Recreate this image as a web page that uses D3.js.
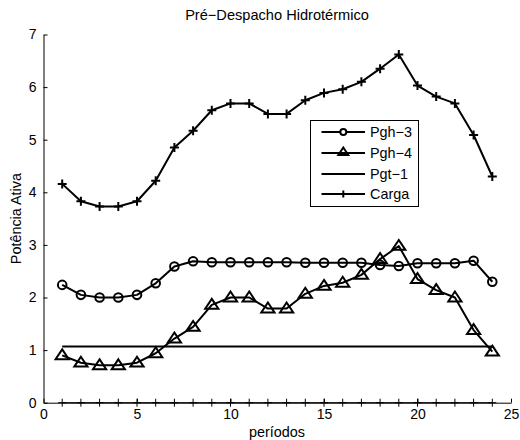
<!DOCTYPE html>
<html>
<head>
<meta charset="utf-8">
<script src="https://cdn.jsdelivr.net/npm/d3@7"></script>
<style>
body { margin: 0; background: #fff; }
svg { display: block; font-family: "Liberation Sans", Arial, Helvetica, sans-serif; }
</style>
</head>
<body>
<svg id="chart" width="520" height="440"></svg>
<script>
const periods = d3.range(1, 25);
const pgh3 = [2.24, 2.05, 2.00, 2.00, 2.05, 2.27, 2.59, 2.69, 2.67, 2.67, 2.67, 2.67, 2.67, 2.66, 2.66, 2.66, 2.66, 2.62, 2.60, 2.65, 2.65, 2.65, 2.70, 2.30];
const pgh4 = [0.90, 0.76, 0.71, 0.71, 0.76, 0.94, 1.22, 1.44, 1.86, 2.00, 2.00, 1.79, 1.79, 2.07, 2.22, 2.28, 2.43, 2.73, 2.98, 2.35, 2.14, 2.00, 1.38, 0.97];
const pgt1 = [1.07, 1.07, 1.07, 1.07, 1.07, 1.07, 1.07, 1.07, 1.07, 1.07, 1.07, 1.07, 1.07, 1.07, 1.07, 1.07, 1.07, 1.07, 1.07, 1.07, 1.07, 1.07, 1.07, 1.07];
const carga = [4.16, 3.83, 3.73, 3.73, 3.83, 4.22, 4.85, 5.17, 5.56, 5.69, 5.69, 5.49, 5.49, 5.75, 5.89, 5.96, 6.10, 6.35, 6.62, 6.03, 5.82, 5.69, 5.09, 4.30];
const pgt2 = [0, 0, 0, 0, 0, 0, 0, 0, 0, 0, 0, 0, 0, 0, 0, 0, 0, 0, 0, 0, 0, 0, 0, 0];
const xTicks = [0, 5, 10, 15, 20, 25];
const yTicks = [0, 1, 2, 3, 4, 5, 6, 7];
const legendNames = ["Pgh\u22123", "Pgh\u22124", "Pgt\u22121", "Carga"];
const titleText = "Pr\u00e9\u2212Despacho Hidrot\u00e9rmico";
const xLabelText = "per\u00edodos";
const yLabelText = "Pot\u00eancia Ativa";

const svg = d3.select("#chart");
const x = d3.scaleLinear().domain([0, 25]).range([43.5, 511]);
const y = d3.scaleLinear().domain([0, 7]).range([402.7, 34.5]);

// axes
const xAxis = d3.axisBottom(x).tickValues(xTicks).tickSizeInner(-4).tickSizeOuter(0).tickPadding(6).tickFormat(d3.format("d"));
const yAxis = d3.axisLeft(y).tickValues(yTicks).tickSizeInner(-4).tickSizeOuter(0).tickPadding(7).tickFormat(d3.format("d"));

const gx = svg.append("g").attr("transform", `translate(0,${y(0)})`).call(xAxis);
const gy = svg.append("g").attr("transform", `translate(${x(0)},0)`).call(yAxis);
[gx, gy].forEach(g => {
  g.selectAll("text").attr("font-size", 14).attr("fill", "#000").attr("font-family", "Liberation Sans, Arial, sans-serif");
  g.selectAll("line").attr("stroke", "#000");
  g.select(".domain").attr("stroke", "#000").attr("stroke-width", 1);
});

const plusPath = s => `M${-s},0H${s}M0,${-s}V${s}`;
const triPath = s => `M0,${-s}L${s*1.1},${s*0.65}L${-s*1.1},${s*0.65}Z`;

function drawSeries(vals, opts) {
  const data = periods.map((p, i) => [p, vals[i]]);
  const line = d3.line().x(d => x(d[0])).y(d => y(d[1]));
  svg.append("path").datum(data).attr("d", line)
    .attr("fill", "none").attr("stroke", "#000").attr("stroke-width", opts.lw).attr("stroke-linejoin", "round");
  if (opts.marker === "circle") {
    svg.append("g").selectAll("circle").data(data).join("circle")
      .attr("cx", d => x(d[0])).attr("cy", d => y(d[1])).attr("r", 4.3)
      .attr("fill", "none").attr("stroke", "#000").attr("stroke-width", opts.lw);
  } else if (opts.marker === "tri") {
    svg.append("g").selectAll("path").data(data).join("path")
      .attr("transform", d => `translate(${x(d[0])},${y(d[1])})`).attr("d", triPath(6))
      .attr("fill", "none").attr("stroke", "#000").attr("stroke-width", opts.lw).attr("stroke-linejoin", "miter");
  } else if (opts.marker === "plus") {
    svg.append("g").selectAll("path").data(data).join("path")
      .attr("transform", d => `translate(${x(d[0])},${y(d[1])})`).attr("d", plusPath(opts.ms))
      .attr("fill", "none").attr("stroke", "#000").attr("stroke-width", opts.lw);
  }
}

drawSeries(pgt2, { lw: 1, marker: "plus", ms: 4 });
drawSeries(pgt1, { lw: 2, marker: null });
drawSeries(pgh4, { lw: 2, marker: "tri" });
drawSeries(pgh3, { lw: 2, marker: "circle" });
drawSeries(carga, { lw: 2, marker: "plus", ms: 4.5 });

// title & labels
svg.append("text").attr("x", 277).attr("y", 20).attr("text-anchor", "middle")
  .attr("font-size", 14.6).attr("fill", "#000").text(titleText);
svg.append("text").attr("x", 277).attr("y", 437).attr("text-anchor", "middle")
  .attr("font-size", 14.4).attr("fill", "#000").text(xLabelText);
svg.append("text").attr("transform", `translate(21,${(y(0) + y(7)) / 2}) rotate(-90)`).attr("text-anchor", "middle")
  .attr("font-size", 14.4).attr("fill", "#000").text(yLabelText);

// legend
const lg = svg.append("g");
lg.append("rect").attr("x", 310.5).attr("y", 120.5).attr("width", 108).attr("height", 86)
  .attr("fill", "#fff").attr("stroke", "#000").attr("stroke-width", 1);
const legendY = [132, 153, 174, 194];
const legendMarkers = ["circle", "tri", null, "plus"];
legendNames.forEach((name, i) => {
  const yy = legendY[i];
  lg.append("line").attr("x1", 321.5).attr("x2", 365).attr("y1", yy).attr("y2", yy)
    .attr("stroke", "#000").attr("stroke-width", 2);
  const cx = 343.3;
  if (legendMarkers[i] === "circle") {
    lg.append("circle").attr("cx", cx).attr("cy", yy).attr("r", 3).attr("fill", "#fff").attr("stroke", "#000").attr("stroke-width", 2);
  } else if (legendMarkers[i] === "tri") {
    lg.append("path").attr("transform", `translate(${cx},${yy - 1})`).attr("d", triPath(4.5))
      .attr("fill", "none").attr("stroke", "#000").attr("stroke-width", 2);
  } else if (legendMarkers[i] === "plus") {
    lg.append("path").attr("transform", `translate(${cx},${yy})`).attr("d", plusPath(3.5))
      .attr("fill", "none").attr("stroke", "#000").attr("stroke-width", 2);
  }
  lg.append("text").attr("x", 370).attr("y", yy).attr("dy", "0.35em")
    .attr("font-size", 14.4).attr("fill", "#000").text(name);
});
</script>
</body>
</html>
